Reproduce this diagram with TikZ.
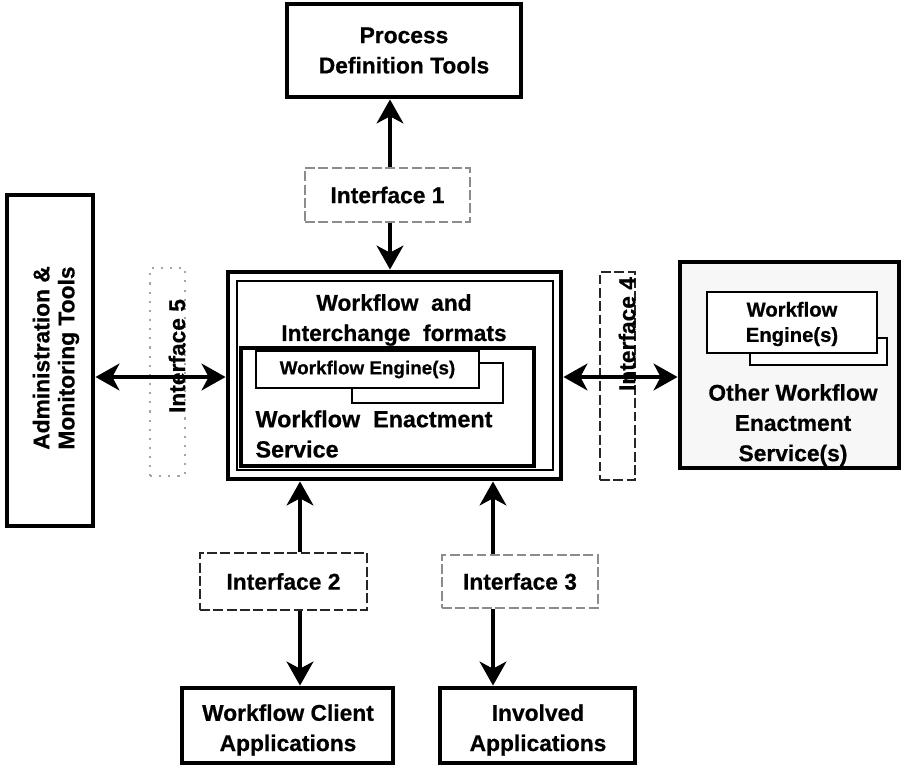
\documentclass[tikz,border=0pt]{standalone}
\usepackage{fontspec}
\setmainfont{Liberation Sans}[BoldFeatures={FakeBold=0.6}]
\usetikzlibrary{arrows.meta,fit}
\begin{document}
\begin{tikzpicture}[x=0.025cm,y=-0.025cm,
  every node/.style={font=\bfseries\fontsize{16.2}{21.5}\selectfont, align=center, inner sep=0pt},
  frame/.style={draw, line width=3.5pt, fit={#1}},
  thinbox/.style={draw, line width=1pt, fill=white, fit={#1}},
  ifdark/.style={draw=black!85, line width=1.3pt, dash pattern=on 7pt off 2.5pt, fit={#1}},
  iflight/.style={draw=black!45, line width=0.9pt, dash pattern=on 7pt off 2.5pt, fit={#1}},
  ifdot/.style={draw=black!35, line width=0.8pt, dash pattern=on 1.5pt off 5pt, fit={#1}},
  arr/.style={line width=2.8pt, -{Stealth[length=17pt,width=19pt,inset=5pt]}},
  darr/.style={line width=2.8pt, {Stealth[length=17pt,width=19pt,inset=5pt]}-{Stealth[length=17pt,width=19pt,inset=5pt]}},
  small/.style={font=\bfseries\fontsize{13.4}{17}\selectfont}]
\useasboundingbox (0,0) rectangle (904,765);

% outer boxes
\node[frame={(287,4) (521,97)}] (pdt) {};
\node (pdttext) at (pdt.center) {Process\\Definition Tools};
\node[frame={(7,195) (93,526)}] (admin) {};
\node[rotate=90, font=\bfseries\fontsize{16.2}{17.8}\selectfont] (admintext) at (56,358) {Administration \&\\Monitoring Tools};
\node[frame={(182,688) (393,763)}] (wca) {};
\node (wcatext) at (288,730) {Workflow Client\\Applications};
\node[frame={(440,688) (635,763)}] (inv) {};
\node (invtext) at (538,730) {Involved\\Applications};

% main box
\node[frame={(228,272) (561,479)}] (main) {};
\node[draw, line width=1.1pt, fit={(237,281) (553,470)}] (mainin) {};
\node[draw, line width=2.4pt, fit={(241,348) (534,466)}] (wes) {};
\node (wif) at (394,320) {Workflow\ \ and\\Interchange\ \ formats};
\node[thinbox={(352,363) (503,403)}] (eng1s) {};
\node[thinbox={(256,351) (479,388)}] (eng1) {};
\node[small] (eng1text) at (eng1.center) {Workflow Engine(s)};
\node[align=left, font=\bfseries\fontsize{16.6}{21.5}\selectfont] (westext) at (374,434) {Workflow\ \ Enactment\\Service\hfill\null};

% other enactment service
\node[frame={(680,262) (899,468)}, fill=black!3] (other) {};
\node[thinbox={(750,338) (887,365)}] (eng2s) {};
\node[thinbox={(707,292) (877,353)}] (eng2) {};
\node[font=\bfseries\fontsize{14.4}{18}\selectfont] (eng2text) at (792,324) {Workflow\\Engine(s)};
\node (othertext) at (793,425) {Other\ Workflow\\Enactment\\Service(s)};

% interface boxes
\node[iflight={(305,168) (470,222)}] (i1) {};
\node (i1text) at (i1.center) {Interface 1};
\node[ifdark={(200,553) (367,610)}] (i2) {};
\node (i2text) at (i2.center) {Interface 2};
\node[iflight={(442,555) (598,608)}] (i3) {};
\node (i3text) at (i3.center) {Interface 3};
\node[ifdark={(600,272) (635,480)}] (i4) {};
\node[ifdot={(150,268) (185,476)}] (i5) {};

% connectors
\coordinate (xa) at (390,0);
\coordinate (xb) at (300,0);
\coordinate (xc) at (493,0);
\coordinate (yr) at (0,377);
\draw[arr] (xa |- i1.north) -- (xa |- pdt.south);
\draw[arr] (xa |- i1.south) -- (xa |- main.north);
\draw[arr] (xb |- i2.north) -- (xb |- main.south);
\draw[arr] (xb |- i2.south) -- (xb |- wca.north);
\draw[arr] (xc |- i3.north) -- (xc |- main.south);
\draw[arr] (xc |- i3.south) -- (xc |- inv.north);
\draw[darr] (admin.east |- yr) -- (main.west |- yr);
\draw[darr] (main.east |- yr) -- (other.west |- yr);

% rotated interface labels
\node[rotate=90] (i5text) at (177,356) {Interface 5};
\node[rotate=90] (i4text) at (627,334) {Interface 4};
\end{tikzpicture}
\end{document}
